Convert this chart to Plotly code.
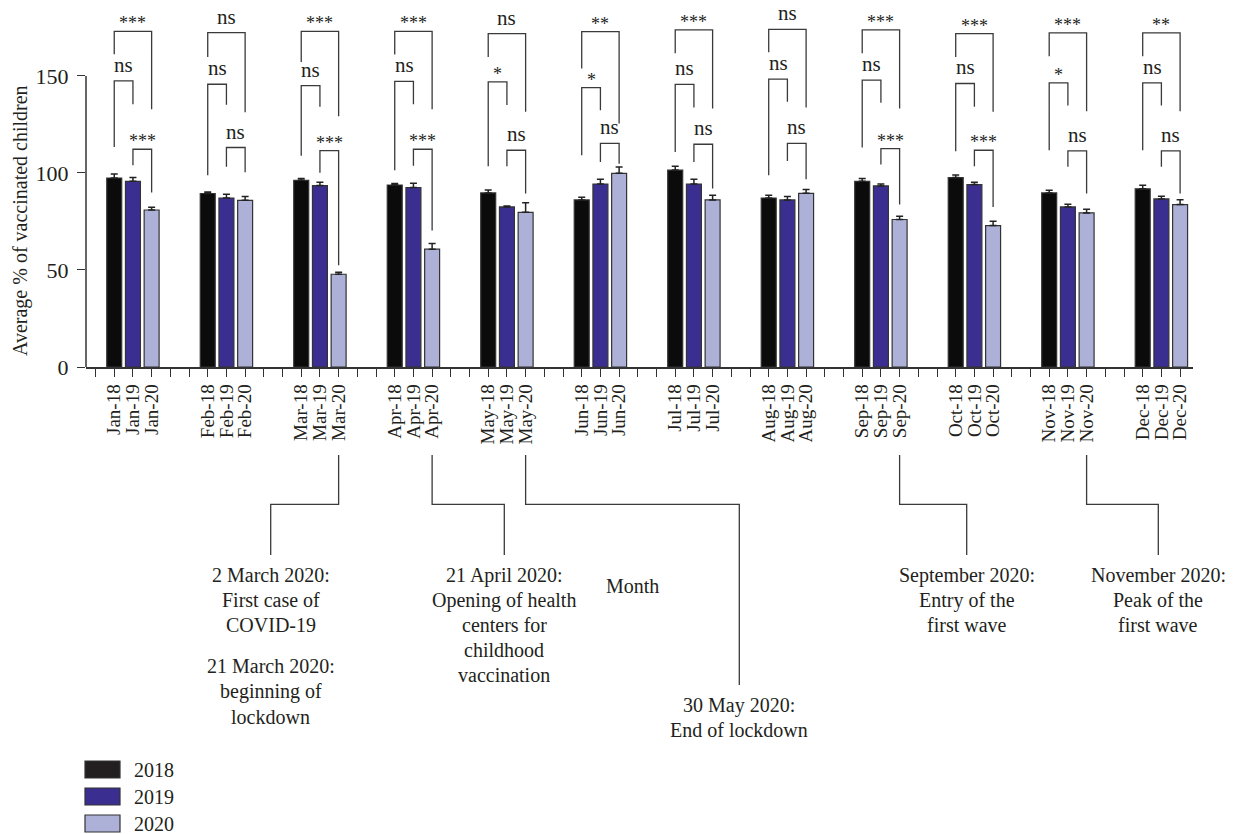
import plotly.graph_objects as go

# ---------------- data ----------------
months = ["Jan", "Feb", "Mar", "Apr", "May", "Jun", "Jul", "Aug", "Sep", "Oct", "Nov", "Dec"]
years = ["2018", "2019", "2020"]
year_suffix = ["18", "19", "20"]
year_colors = ["#0b0b0b", "#3a2f91", "#adb0d7"]

v2018 = [97.4, 89.4, 96.2, 93.8, 89.7, 86.1, 101.5, 87.1, 95.7, 97.6, 89.7, 91.8]
e2018 = [2.0, 0.8, 1.0, 0.8, 1.5, 1.4, 2.0, 1.4, 1.5, 1.4, 1.4, 1.9]
v2019 = [95.7, 87.1, 93.5, 92.5, 82.5, 94.3, 94.3, 86.1, 93.3, 94.0, 82.5, 86.6]
e2019 = [2.0, 1.9, 1.7, 2.2, 0.5, 2.4, 2.4, 1.7, 1.0, 1.2, 1.4, 1.4]
v2020 = [80.9, 85.9, 47.8, 60.7, 79.7, 99.8, 86.1, 89.5, 76.0, 72.9, 79.4, 83.7]
e2020 = [1.4, 2.0, 1.0, 3.0, 5.0, 3.3, 2.4, 2.0, 1.7, 2.2, 1.9, 2.5]
values = [v2018, v2019, v2020]
errors = [e2018, e2019, e2020]

# significance brackets per month: (height, left-leg bottom, right-leg bottom, label)
# top = 2018 vs 2020, a = 2018 vs 2019, b = 2019 vs 2020
br_top = [(173.0, 161.2, 132.8, "***"), (172.3, 159.8, 131.3, "ns"), (173.0, 157.2, 129.2, "***"),
          (173.0, 161.0, 132.8, "***"), (171.8, 159.8, 131.5, "ns"), (172.8, 153.8, 125.5, "**"),
          (173.7, 161.7, 133.2, "***"), (174.0, 162.2, 133.7, "ns"), (173.7, 161.7, 133.2, "***"),
          (171.8, 159.8, 131.5, "***"), (172.2, 160.1, 131.8, "***"), (172.2, 160.1, 131.8, "**")]
br_a = [(147.4, 113.4, 135.4, "ns"), (145.7, 98.8, 135.1, "ns"), (145.0, 108.8, 134.1, "ns"),
        (147.2, 101.4, 135.4, "ns"), (146.9, 103.5, 135.0, "*"), (144.0, 109.1, 132.3, "*"),
        (145.6, 110.8, 133.7, "ns"), (148.3, 98.8, 136.7, "ns"), (147.8, 113.1, 136.2, "ns"),
        (146.1, 111.2, 134.1, "ns"), (146.4, 111.7, 134.7, "*"), (146.4, 111.7, 134.7, "ns")]
br_b = [(112.2, 104.0, 89.9, "***"), (113.1, 103.2, 100.3, "ns"), (111.5, 100.1, 52.4, "***"),
        (112.2, 103.7, 70.3, "***"), (111.7, 103.5, 89.4, "ns"), (115.2, 105.7, 104.8, "ns"),
        (114.8, 105.7, 92.0, "ns"), (115.2, 106.2, 96.8, "ns"), (112.5, 104.3, 83.8, "***"),
        (111.7, 103.5, 82.5, "***"), (111.4, 103.2, 89.4, "ns"), (111.4, 103.2, 89.4, "ns")]

# timeline callouts: (month index, text lines)
events = [
    (2, ["2 March 2020:", "First case of", "COVID-19", "", "21 March 2020:", "beginning of", "lockdown"]),
    (3, ["21 April 2020:", "Opening of health", "centers for", "childhood", "vaccination"]),
    (4, ["30 May 2020:", "End of lockdown"]),
    (8, ["September 2020:", "Entry of the", "first wave"]),
    (10, ["November 2020:", "Peak of the", "first wave"]),
]

# ---------------- layout geometry ----------------
W, H = 1239, 834
ML, MR, MT, MB = 86, 46, 8, 467
PW = W - ML - MR
PH = H - MT - MB
XR = [-0.51, 58.69]
YR = [0, 185]
FONT = "Liberation Serif"
INK = "#231f20"
LINE = "#3a3a3a"


def slot(m, k):
    return 5 * m + k + 1


def px2paper_x(px):
    return (px - ML) / PW


def py2paper_y(py):
    return (H - MB - py) / PH


def slot2paper(s):
    return (s - XR[0]) / (XR[1] - XR[0])


fig = go.Figure()
for k, yr in enumerate(years):
    fig.add_trace(go.Bar(
        x=[slot(m, k) for m in range(len(months))],
        y=values[k],
        width=0.8,
        name=yr,
        marker=dict(color=year_colors[k], line=dict(color="#333333", width=1.2)),
        error_y=dict(type="data", array=errors[k], arrayminus=[0] * len(months), symmetric=False,
                     color="#222222", thickness=1.5, width=3.5),
        showlegend=False,
    ))

tickvals = list(range(0, 59))
ticktext = [""] * 59
for m, mo in enumerate(months):
    for k, ys in enumerate(year_suffix):
        ticktext[slot(m, k)] = f"{mo}-{ys}"

shapes = []
annotations = []


def bracket(x0, x1, h, l0, l1, label):
    path = f"M {x0} {l0} L {x0} {h} L {x1} {h} L {x1} {l1}"
    shapes.append(dict(type="path", path=path, xref="x", yref="y",
                       line=dict(color=LINE, width=1.3)))
    star = label != "ns"
    annotations.append(dict(x=(x0 + x1) / 2, y=h, xref="x", yref="y", text=label,
                            showarrow=False, yanchor="bottom", xanchor="center",
                            yshift=-4 if star else 2,
                            font=dict(family=FONT, size=18 if star else 21, color=INK)))


for m in range(len(months)):
    s0, s1, s2 = slot(m, 0), slot(m, 1), slot(m, 2)
    h, l0, l1, lab = br_top[m]
    bracket(s0, s2, h, l0, l1, lab)
    h, l0, l1, lab = br_a[m]
    bracket(s0, s1, h, l0, l1, lab)
    h, l0, l1, lab = br_b[m]
    bracket(s1, s2, h, l0, l1, lab)

# y axis line only from 0 to 150
shapes.append(dict(type="line", xref="paper", yref="paper", x0=0, x1=0, y0=0, y1=150 / YR[1],
                   line=dict(color="#333333", width=1.5)))

# callouts
callout_geo = {  # month index: (horizontal end px, bottom px, first text line center px)
    2: (270.7, 555, 575),
    3: (504.3, 555, 575),
    4: (739.3, 685, 705),
    8: (966.7, 555, 575),
    10: (1158.3, 555, 575),
}
for m, lines in events:
    xe, yb, yt = callout_geo[m]
    xs = slot2paper(slot(m, 2))
    xe_p = px2paper_x(xe)
    y_start = py2paper_y(455)
    y_h = py2paper_y(504.3)
    path = f"M {xs} {y_start} L {xs} {y_h} L {xe_p} {y_h} L {xe_p} {py2paper_y(yb)}"
    shapes.append(dict(type="path", path=path, xref="paper", yref="paper",
                       line=dict(color=LINE, width=1.3)))
    step = 24.5 if m == 4 else 25
    yy = yt
    for i, t in enumerate(lines):
        if t == "":
            yy += 16.5
            continue
        annotations.append(dict(x=xe_p, y=py2paper_y(yy), xref="paper", yref="paper", text=t,
                                showarrow=False, xanchor="center", yanchor="middle",
                                font=dict(family=FONT, size=20, color=INK)))
        yy += step

# axis titles
annotations.append(dict(x=px2paper_x(632), y=py2paper_y(586), xref="paper", yref="paper", text="Month",
                        showarrow=False, xanchor="center", yanchor="middle",
                        font=dict(family=FONT, size=20, color=INK)))
annotations.append(dict(x=px2paper_x(21), y=py2paper_y(221), xref="paper", yref="paper",
                        text="Average % of vaccinated children", textangle=-90,
                        showarrow=False, xanchor="center", yanchor="middle",
                        font=dict(family=FONT, size=20, color=INK)))

# legend (drawn)
leg_y = [769.5, 796.5, 823.5]
for k, yr in enumerate(years):
    cy = leg_y[k]
    shapes.append(dict(type="rect", xref="paper", yref="paper",
                       x0=px2paper_x(85), x1=px2paper_x(120),
                       y0=py2paper_y(cy + 8.5), y1=py2paper_y(cy - 8.5),
                       fillcolor=year_colors[k] if k else "#231f20",
                       line=dict(color="#333333", width=1.2)))
    annotations.append(dict(x=px2paper_x(132), y=py2paper_y(cy), xref="paper", yref="paper", text=yr,
                            showarrow=False, xanchor="left", yanchor="middle",
                            font=dict(family=FONT, size=20, color=INK)))

fig.update_layout(
    width=W, height=H,
    margin=dict(l=ML, r=MR, t=MT, b=MB, pad=0),
    paper_bgcolor="white", plot_bgcolor="white",
    barmode="overlay",
    font=dict(family=FONT, size=20, color=INK),
    xaxis=dict(range=XR, tickmode="array", tickvals=tickvals, ticktext=ticktext, tickangle=-90,
               ticks="outside", ticklen=8, tickwidth=1.3, tickcolor="#333333",
               showline=True, linecolor="#333333", linewidth=1.5,
               showgrid=False, zeroline=False,
               tickfont=dict(family=FONT, size=19, color=INK)),
    yaxis=dict(range=YR, tickmode="array", tickvals=[0, 50, 100, 150],
               ticks="outside", ticklen=8, tickwidth=1.3, tickcolor="#333333",
               showline=False, showgrid=False, zeroline=False, ticklabelstandoff=4,
               tickfont=dict(family=FONT, size=22, color=INK)),
    shapes=shapes,
    annotations=annotations,
)

fig.write_html("out.html", config={"displayModeBar": False},
               post_script="document.body.style.margin='0';document.body.style.overflow='hidden';")
